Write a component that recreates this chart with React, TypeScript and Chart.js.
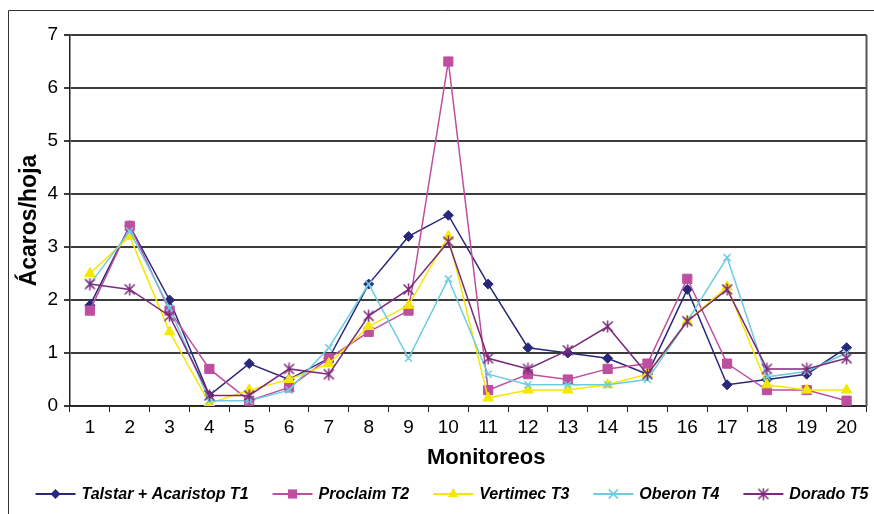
import React, { useEffect, useRef } from 'react';
import { Chart, registerables } from 'chart.js';

Chart.register(...registerables);

// Monitoring rounds (x axis)
const monitoreos = ['1', '2', '3', '4', '5', '6', '7', '8', '9', '10', '11', '12', '13', '14', '15', '16', '17', '18', '19', '20'];

// Mites per leaf for each treatment
const talstarT1 = [1.9, 3.4, 2.0, 0.2, 0.8, 0.5, 0.9, 2.3, 3.2, 3.6, 2.3, 1.1, 1.0, 0.9, 0.6, 2.2, 0.4, 0.5, 0.6, 1.1];
const proclaimT2 = [1.8, 3.4, 1.8, 0.7, 0.1, 0.35, 0.9, 1.4, 1.8, 6.5, 0.3, 0.6, 0.5, 0.7, 0.8, 2.4, 0.8, 0.3, 0.3, 0.1];
const vertimecT3 = [2.5, 3.2, 1.4, 0.05, 0.3, 0.5, 0.8, 1.5, 1.9, 3.2, 0.15, 0.3, 0.3, 0.4, 0.6, 1.6, 2.25, 0.4, 0.3, 0.3];
const oberonT4 = [2.3, 3.3, 1.85, 0.1, 0.1, 0.3, 1.1, 2.3, 0.9, 2.4, 0.6, 0.4, 0.4, 0.4, 0.5, 1.6, 2.8, 0.55, 0.65, 1.0];
const doradoT5 = [2.3, 2.2, 1.7, 0.2, 0.2, 0.7, 0.6, 1.7, 2.2, 3.1, 0.9, 0.7, 1.05, 1.5, 0.6, 1.6, 2.2, 0.7, 0.7, 0.9];

const seriesNames = ['Talstar + Acaristop T1', 'Proclaim T2', 'Vertimec T3', 'Oberon T4', 'Dorado T5'];
const yTicks = [0, 1, 2, 3, 4, 5, 6, 7];
const xTitle = 'Monitoreos';
const yTitle = 'Ácaros/hoja';

const FONT = '"Liberation Sans", Arial, Helvetica, sans-serif';

const COLORS = ['#28287A', '#BE4FA0', '#F5E800', '#6FCCE0', '#7B2A7A'];
const STYLES = ['rectRot', 'rect', 'triangle', 'crossRot', 'star'];
const RADII = [5, 6.5, 6, 5, 5];

// Asterisk marker: an X with a vertical stroke through it
function asteriskImage(color: string, r: number): HTMLCanvasElement {
  const size = Math.ceil(r * 2 + 3);
  const c = document.createElement('canvas');
  c.width = size;
  c.height = size;
  const ctx = c.getContext('2d')!;
  const m = size / 2;
  ctx.strokeStyle = color;
  ctx.lineWidth = 1.5;
  ctx.beginPath();
  ctx.moveTo(m - r, m - r);
  ctx.lineTo(m + r, m + r);
  ctx.moveTo(m + r, m - r);
  ctx.lineTo(m - r, m + r);
  ctx.moveTo(m, m - r - 1);
  ctx.lineTo(m, m + r + 1);
  ctx.stroke();
  return c;
}

function drawMarker(ctx: CanvasRenderingContext2D, style: string, x: number, y: number, r: number, color: string) {
  ctx.save();
  ctx.fillStyle = color;
  ctx.strokeStyle = color;
  ctx.lineWidth = 1.5;
  ctx.beginPath();
  if (style === 'rectRot') {
    ctx.moveTo(x, y - r);
    ctx.lineTo(x + r, y);
    ctx.lineTo(x, y + r);
    ctx.lineTo(x - r, y);
    ctx.closePath();
    ctx.fill();
  } else if (style === 'rect') {
    const s = r * Math.SQRT1_2;
    ctx.fillRect(x - s, y - s, 2 * s, 2 * s);
  } else if (style === 'triangle') {
    let a = 0;
    ctx.moveTo(x + Math.sin(a) * r, y - Math.cos(a) * r);
    a += (2 * Math.PI) / 3;
    ctx.lineTo(x + Math.sin(a) * r, y - Math.cos(a) * r);
    a += (2 * Math.PI) / 3;
    ctx.lineTo(x + Math.sin(a) * r, y - Math.cos(a) * r);
    ctx.closePath();
    ctx.fill();
  } else if (style === 'crossRot') {
    const s = r * Math.SQRT1_2 * 1.3;
    ctx.moveTo(x - s, y - s);
    ctx.lineTo(x + s, y + s);
    ctx.moveTo(x + s, y - s);
    ctx.lineTo(x - s, y + s);
    ctx.stroke();
  } else {
    const img = asteriskImage(color, r);
    ctx.drawImage(img, x - img.width / 2, y - img.height / 2);
  }
  ctx.restore();
}

// Outer frame, right edge of the plot box, x-axis title and the bottom legend
const decorations = {
  id: 'decorations',
  afterDraw(chart: any) {
    const ctx: CanvasRenderingContext2D = chart.ctx;
    const area = chart.chartArea;
    ctx.save();

    ctx.strokeStyle = '#333';
    ctx.lineWidth = 1;
    ctx.beginPath();
    ctx.moveTo(8.5, chart.height);
    ctx.lineTo(8.5, 10.5);
    ctx.lineTo(chart.width, 10.5);
    ctx.stroke();

    ctx.strokeStyle = '#555';
    ctx.lineWidth = 2;
    ctx.beginPath();
    ctx.moveTo(area.right, area.top);
    ctx.lineTo(area.right, area.bottom);
    ctx.stroke();

    // x-axis title, set a little right of the plot centre
    ctx.fillStyle = '#000';
    ctx.font = `bold 22px ${FONT}`;
    ctx.textAlign = 'center';
    ctx.textBaseline = 'middle';
    ctx.fillText(xTitle, (area.left + area.right) / 2 + 18, area.bottom + 52);

    // legend
    ctx.font = `italic bold 16px ${FONT}`;
    ctx.textBaseline = 'middle';
    ctx.textAlign = 'left';
    const lineLen = 40;
    const textGap = 6;
    const itemGap = 24;
    const widths = chart.data.datasets.map((d: any) => ctx.measureText(d.label).width);
    const total = widths.reduce((a: number, w: number) => a + w + lineLen + textGap, 0) + itemGap * (widths.length - 1);
    let x = 452 - total / 2;
    const y = 494;
    chart.data.datasets.forEach((d: any, i: number) => {
      ctx.strokeStyle = d.borderColor;
      ctx.lineWidth = 2;
      ctx.beginPath();
      ctx.moveTo(x, y);
      ctx.lineTo(x + lineLen, y);
      ctx.stroke();
      drawMarker(ctx, STYLES[i], x + lineLen / 2, y, RADII[i], d.borderColor);
      ctx.fillStyle = '#000';
      ctx.fillText(d.label, x + lineLen + textGap, y + 1);
      x += lineLen + textGap + widths[i] + itemGap;
    });
    ctx.restore();
  },
};

export default function App() {
  const canvasRef = useRef<HTMLCanvasElement | null>(null);

  useEffect(() => {
    const canvas = canvasRef.current;
    if (!canvas) return;
    const values = [talstarT1, proclaimT2, vertimecT3, oberonT4, doradoT5];
    const datasets = values.map((data, i) => ({
      label: seriesNames[i],
      data,
      borderColor: COLORS[i],
      backgroundColor: COLORS[i],
      borderWidth: 1.5,
      pointStyle: STYLES[i] === 'star' ? asteriskImage(COLORS[i], RADII[i]) : STYLES[i],
      pointRadius: RADII[i],
      pointBorderWidth: STYLES[i] === 'crossRot' ? 1.5 : 1,
      pointBorderColor: COLORS[i],
      pointBackgroundColor: COLORS[i],
      tension: 0,
      order: values.length - 1 - i,
    }));

    const chart = new Chart(canvas, {
      type: 'line',
      data: { labels: monitoreos, datasets: datasets as any },
      options: {
        responsive: false,
        animation: false,
        devicePixelRatio: 1,
        layout: { padding: { left: 0, top: 35, right: 7, bottom: 38 } },
        plugins: {
          legend: { display: false },
          tooltip: { enabled: false },
        },
        scales: {
          x: {
            type: 'category',
            offset: true,
            grid: {
              display: true,
              drawOnChartArea: false,
              drawTicks: true,
              tickLength: 6,
              offset: true,
              color: '#222',
              lineWidth: 1,
            },
            border: { display: true, color: '#222', width: 1.5 },
            ticks: {
              color: '#000',
              font: { family: FONT, size: 19 },
              padding: 4,
              autoSkip: false,
              maxRotation: 0,
            },
            afterFit: (s: any) => {
              s.height = 70;
            },
          },
          y: {
            min: yTicks[0],
            max: yTicks[yTicks.length - 1],
            afterBuildTicks: (s: any) => {
              s.ticks = yTicks.map((v) => ({ value: v }));
            },
            grid: { color: '#3c3c3c', lineWidth: 2, tickLength: 6, drawTicks: true },
            border: { display: true, color: '#222', width: 1.5 },
            ticks: {
              color: '#000',
              font: { family: FONT, size: 19 },
              padding: 6,
            },
            title: {
              display: true,
              text: yTitle,
              color: '#000',
              font: { family: FONT, size: 23, weight: 'bold' },
              padding: { top: 16, bottom: 0 },
            },
            afterFit: (s: any) => {
              s.width = 70;
            },
          },
        },
      } as any,
      plugins: [decorations],
    });
    return () => chart.destroy();
  }, []);

  return (
    <div style={{ position: 'fixed', left: 0, top: 0, width: 874, height: 514, background: '#fff' }}>
      <canvas ref={canvasRef} width={874} height={514} style={{ width: 874, height: 514, display: 'block' }} />
    </div>
  );
}
